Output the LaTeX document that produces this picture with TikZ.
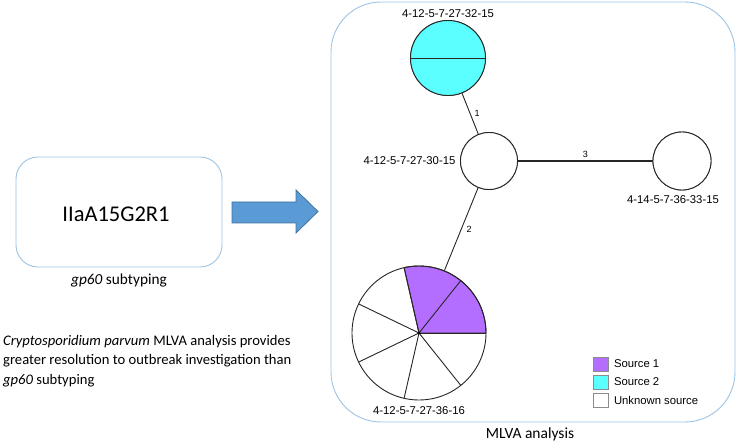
\documentclass[tikz,border=0pt]{standalone}
\usepackage{fontspec}
\setmainfont{Carlito}
\newfontfamily\arialf{Liberation Sans}
\usetikzlibrary{calc}
\definecolor{boxblue}{HTML}{9DC3E6}
\definecolor{arrowfill}{HTML}{5B9BD5}
\definecolor{arrowline}{HTML}{41719C}
\definecolor{srcone}{HTML}{B46EFF}
\definecolor{srctwo}{HTML}{5CFFFF}
\tikzset{
  panel/.style={draw=boxblue, line width=0.9pt, rounded corners=#1},
  st/.style={circle, draw=black!85, line width=0.9pt, inner sep=0pt, fill=white, minimum size=#1},
  lbl/.style={font=\arialf\fontsize{11.3}{13}\selectfont, inner sep=1.5pt},
  elbl/.style={font=\arialf\fontsize{9}{11}\selectfont, inner sep=2pt},
  edge/.style={draw=black!85, line width=0.9pt},
  legbox/.style={draw=black!45, line width=0.6pt, minimum width=15pt, minimum height=14pt, inner sep=0pt},
  cal/.style={font=\fontsize{#1}{#1}\selectfont}
}
\begin{document}
\begin{tikzpicture}[x=1pt,y=-1pt]
\useasboundingbox (0,0) rectangle (737,443);
% panels
\draw[panel=50pt] (331,2) rectangle (735,422);
\draw[panel=22pt] (16,157) rectangle (222,267);
\node[cal=22.5] (subtype) at (116,214) {IIaA15G2R1};
\node[cal=15.3] (gplbl) at (119,281) {\textit{gp60} subtyping};
\node[cal=15.5] (mlvalbl) at (530,434) {MLVA analysis};
% big arrow
\filldraw[fill=arrowfill, draw=arrowline, line width=0.8pt]
  (232,202) -- (296,202) -- (296,190) -- (318,211.5) -- (296,233) -- (296,223) -- (232,223) -- cycle;
% bottom-left text
\node[anchor=north west, inner sep=0pt, align=left, font=\fontsize{14.6}{19.5}\selectfont] (summary) at (3,335)
  {\textit{Cryptosporidium parvum} MLVA analysis provides\\greater resolution to outbreak investigation than\\\textit{gp60} subtyping};
% nodes
\node[st=75pt, fill=srctwo] (cy) at (448,58) {};
\node[st=57pt] (mid) at (489,161) {};
\node[st=58pt] (rt) at (682,161) {};
\node[st=134pt, fill=none, draw=none] (pie) at (419,333) {};
% edges
\draw[edge] (cy) -- (mid) node[elbl, midway, right=2pt] {1};
\draw[edge] (mid) -- (pie) node[elbl, midway, right=3pt] {2};
\draw[edge, line width=1.6pt] (mid) -- (rt) node[elbl, midway, above=1pt] {3};
% redraw circles on top
\node[st=75pt, fill=srctwo] at (cy) {};
\draw[line width=0.9pt, black!85] (cy.west) -- (cy.east);
\node[st=57pt] at (mid) {};
\node[st=58pt] at (rt) {};
% pie
\fill[white] (pie.center) circle[radius=67pt];
\filldraw[fill=srcone, draw=black!85, line width=0.9pt] (pie.center) -- ++(0:67pt) arc[start angle=0, end angle=102.857, radius=67pt] -- cycle;
\foreach \a in {0,51.4286,102.857,154.286,205.714,257.143,308.571}
  \draw[line width=0.9pt, black!85] (pie.center) -- ++(\a:67pt);
\draw[line width=0.9pt, black!85] (pie.center) circle[radius=67pt];
\fill (pie.center) circle[radius=1.3pt];
% labels
\node[lbl, above=1pt] at (cy.north) {4-12-5-7-27-32-15};
\node[lbl, left=3pt] at (mid.west) {4-12-5-7-27-30-15};
\node[lbl] at (673,200) {4-14-5-7-36-33-15};
\node[lbl] at (419,411) {4-12-5-7-27-36-16};
% legend
\node[legbox, fill=srcone] (l1) at (600.5,364) {};
\node[legbox, fill=srctwo] (l2) at (600.5,382) {};
\node[legbox, fill=white] (l3) at (600.5,400) {};
\node[lbl, anchor=west] at ([xshift=4pt]l1.east) {Source 1};
\node[lbl, anchor=west] at ([xshift=4pt]l2.east) {Source 2};
\node[lbl, anchor=west] at ([xshift=4pt]l3.east) {Unknown source};
\end{tikzpicture}
\end{document}
